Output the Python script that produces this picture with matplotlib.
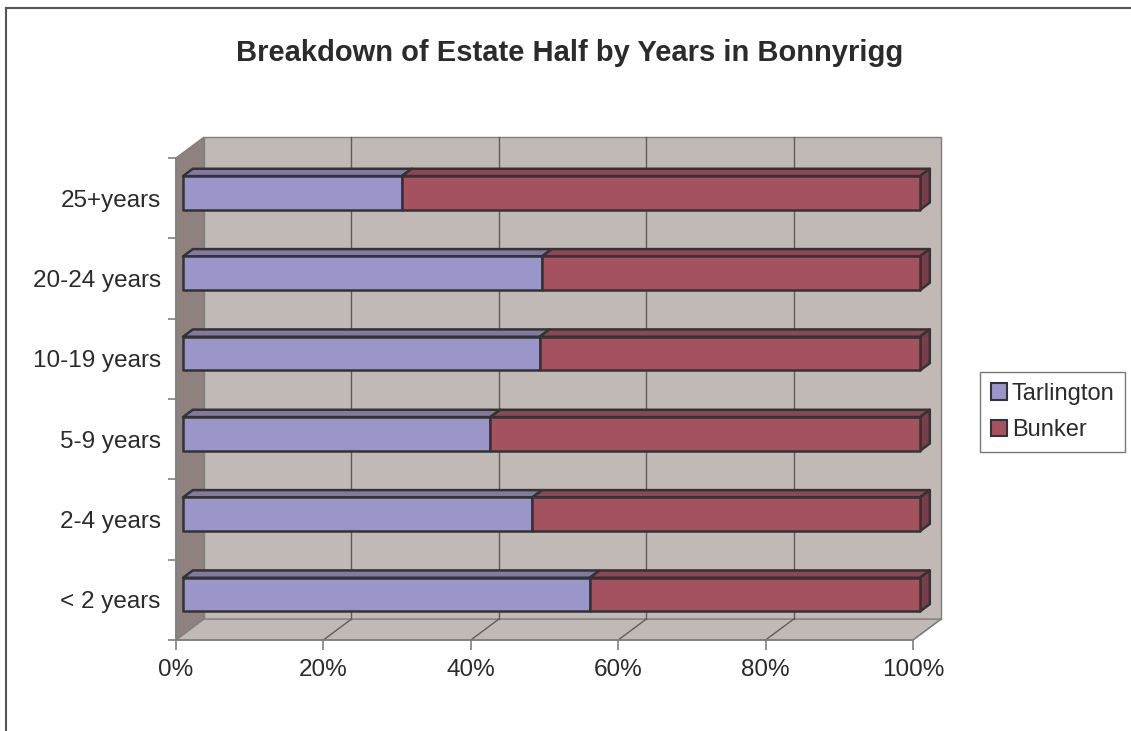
import matplotlib
matplotlib.use('Agg')
import matplotlib.pyplot as plt
from matplotlib.patches import Polygon, Patch
from matplotlib.lines import Line2D

plt.rcParams['font.family'] = ['Liberation Sans', 'DejaVu Sans']

# data (share of each age band, percent)
categories = ['< 2 years', '2-4 years', '5-9 years', '10-19 years', '20-24 years', '25+years']
tarlington = [55.2, 47.4, 41.7, 48.4, 48.7, 29.7]
bunker = [100 - v for v in tarlington]
series_names = ['Tarlington', 'Bunker']

# colours
front_cols = ['#9A96CA', '#A55260']
top_cols = ['#827B9F', '#8C4655']
side_col = '#7A3D4A'
wall_col = '#C1B9B5'
side_wall_col = '#8F827E'
edge_col = '#333333'
grey = '#7F7F7F'
text_col = '#2B2B2B'

# fake depth: offset of the back wall in data units
DX, DY = 3.8, 0.26
d0, d1 = 0.25, 0.6       # bar depth range (fraction of box depth)
bh = 0.42                # bar height in category units


def pt(x, y, d):
    return (x + d * DX, y + d * DY)


fig = plt.figure(figsize=(11.31, 7.31), dpi=100)
ax = fig.add_axes([176 / 1131, 91 / 731, 737 / 1131, 482 / 731])
ax.set_xlim(0, 100)
ax.set_ylim(-0.5, len(categories) - 0.5)
ax.patch.set_visible(False)

y_lo, y_hi = -0.5, len(categories) - 0.5

# walls
back = Polygon([pt(0, y_lo, 1), pt(100, y_lo, 1), pt(100, y_hi, 1), pt(0, y_hi, 1)],
               closed=True, fc=wall_col, ec=grey, lw=1, clip_on=False, zorder=1)
side = Polygon([(0, y_lo), pt(0, y_lo, 1), pt(0, y_hi, 1), (0, y_hi)],
               closed=True, fc=side_wall_col, ec=grey, lw=1, clip_on=False, zorder=1)
floor = Polygon([(0, y_lo), (100, y_lo), pt(100, y_lo, 1), pt(0, y_lo, 1)],
                closed=True, fc=wall_col, ec=grey, lw=1, clip_on=False, zorder=1)
for p in (back, side, floor):
    ax.add_patch(p)

# gridlines on back wall and floor
for gx in [20, 40, 60, 80]:
    bx0, by0 = pt(gx, y_lo, 1)
    bx1, by1 = pt(gx, y_hi, 1)
    ax.plot([bx0, bx1], [by0, by1], color='#625B59', lw=1, zorder=2, clip_on=False)
    ax.plot([gx, bx0], [y_lo, by0], color='#625B59', lw=1, zorder=2, clip_on=False)
ax.plot([100, pt(100, y_lo, 1)[0]], [y_lo, pt(100, y_lo, 1)[1]], color=grey, lw=1,
        zorder=2, clip_on=False)

# bars
for i, cat in enumerate(categories):
    vals = [tarlington[i], bunker[i]]
    yb, yt = i - bh / 2, i + bh / 2
    left = 0
    for k, v in enumerate(vals):
        right = left + v
        top = Polygon([pt(left, yt, d0), pt(right, yt, d0), pt(right, yt, d1), pt(left, yt, d1)],
                      closed=True, fc=top_cols[k], ec=edge_col, lw=1.8, joinstyle='round',
                      clip_on=False, zorder=3)
        front = Polygon([pt(left, yb, d0), pt(right, yb, d0), pt(right, yt, d0), pt(left, yt, d0)],
                        closed=True, fc=front_cols[k], ec=edge_col, lw=1.8, joinstyle='round',
                        clip_on=False, zorder=4)
        ax.add_patch(top)
        ax.add_patch(front)
        left = right
    end = Polygon([pt(100, yb, d0), pt(100, yb, d1), pt(100, yt, d1), pt(100, yt, d0)],
                  closed=True, fc=side_col, ec=edge_col, lw=1.8, joinstyle='round',
                  clip_on=False, zorder=3)
    ax.add_patch(end)

# axes / ticks
for s in ['top', 'right']:
    ax.spines[s].set_visible(False)
for s in ['left', 'bottom']:
    ax.spines[s].set_color(grey)
    ax.spines[s].set_linewidth(1.2)
    ax.spines[s].set_zorder(5)

ax.set_xticks([0, 20, 40, 60, 80, 100])
ax.set_xticklabels(['0%', '20%', '40%', '60%', '80%', '100%'], fontsize=17.5, color=text_col)
ax.tick_params(axis='x', length=7, width=1.2, color=grey, pad=7)

ax.set_yticks([v - 0.5 for v in range(len(categories) + 1)])
ax.set_yticklabels([])
ax.tick_params(axis='y', which='major', length=6, width=1.2, color=grey)
ax.set_yticks(range(len(categories)), minor=True)
ax.set_yticklabels(categories, minor=True, fontsize=17.5, color=text_col)
ax.tick_params(axis='y', which='minor', length=0, pad=11)

# title
fig.text(570 / 1131, 1 - 53 / 731, 'Breakdown of Estate Half by Years in Bonnyrigg',
         ha='center', va='center', fontsize=21, fontweight='bold', color=text_col)

# legend
handles = [Patch(fc=front_cols[k], ec=edge_col, lw=1.5, label=series_names[k]) for k in range(2)]
leg = fig.legend(handles=handles, loc='center left', bbox_to_anchor=(980 / 1131, 1 - 412 / 731),
                 fontsize=17, frameon=True, fancybox=False, edgecolor='#555555',
                 handlelength=0.7, handleheight=0.7, handletextpad=0.2, borderpad=0.45,
                 labelspacing=0.6, borderaxespad=0)
leg.get_frame().set_linewidth(1.0)
for t in leg.get_texts():
    t.set_color(text_col)

# outer chart border (top and left only visible)
fig.add_artist(Line2D([5.5 / 1131, 5.5 / 1131], [0, 1 - 8 / 731], transform=fig.transFigure,
                      color='#555555', lw=1.5))
fig.add_artist(Line2D([5.5 / 1131, 1], [1 - 8 / 731, 1 - 8 / 731], transform=fig.transFigure,
                      color='#555555', lw=1.5))

fig.savefig('out.png', dpi=100, facecolor='white')
